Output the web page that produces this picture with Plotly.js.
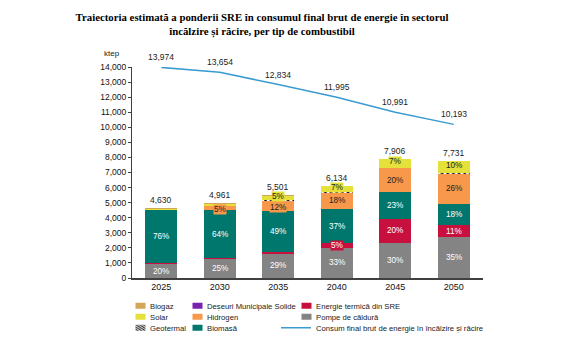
<!DOCTYPE html>
<html><head><meta charset="utf-8">
<script src="https://cdn.plot.ly/plotly-3.0.1.min.js"></script>
<style>html,body{margin:0;padding:0;background:#fff}</style>
</head><body>
<div id="chart" style="width:585px;height:340px"></div>
<script>
const years = ['2025', '2030', '2035', '2040', '2045', '2050'];
const pompe = [926, 1240, 1595, 2010, 2330, 2690];
const energieTermica = [60, 88, 140, 300, 1580, 845];
const biomasa = [3519, 3175, 2695, 2260, 1800, 1385];
const deseuri = [35, 30, 36, 0, 0, 0];
const hidrogen = [0, 248, 660, 1095, 1580, 2000];
const geotermal = [0, 0, 60, 40, 30, 30];
const solar = [65, 140, 275, 429, 556, 781];
const biogaz = [25, 40, 40, 0, 30, 0];
const totals = [4630, 4961, 5501, 6134, 7906, 7731];
const consumFinal = [13974, 13654, 12834, 11995, 10991, 10193];
const pctPompe = ['20%', '25%', '29%', '33%', '30%', '35%'];
const pctEnergie = ['', '', '', '5%', '20%', '11%'];
const pctBiomasa = ['76%', '64%', '49%', '37%', '23%', '18%'];
const pctHidrogen = ['', '5%', '12%', '18%', '20%', '26%'];
const pctSolar = ['', '', '5%', '7%', '7%', '10%'];

const FONT = 'Liberation Sans, Arial, sans-serif';
const C = {
  biogaz: '#d4a65a', deseuri: '#7a22b0', energie: '#c8103e', solar: '#e4e13a',
  hidrogen: '#f7984a', pompe: '#848484', biomasa: '#00776d', line: '#3a9bd0'
};

function bar(name, y, color, legend, extra) {
  return Object.assign({
    type: 'bar', name: name, x: years, y: y, legend: legend,
    marker: {color: color, line: {width: 0}}, hoverinfo: 'name+y'
  }, extra || {});
}

const traces = [
  bar('Pompe de căldură', pompe, C.pompe, 'legend8'),
  bar('Energie termică din SRE', energieTermica, C.energie, 'legend7'),
  bar('Biomasă', biomasa, C.biomasa, 'legend6'),
  bar('Deșeuri Municipale Solide', deseuri, C.deseuri, 'legend4'),
  bar('Hidrogen', hidrogen, C.hidrogen, 'legend5'),
  bar('Geotermal', geotermal, '#ffffff', 'legend3', {
    marker: {color: '#ffffff', line: {width: 0},
      pattern: {shape: '\\', fgcolor: '#000000', bgcolor: '#ffffff', size: 4, solidity: 0.45}}
  }),
  bar('Solar', solar, C.solar, 'legend2'),
  bar('Biogaz', biogaz, C.biogaz, 'legend'),
  {
    type: 'scatter', mode: 'lines', name: 'Consum final brut de energie în încălzire și răcire',
    x: years, y: consumFinal, line: {color: C.line, width: 1.5}, legend: 'legend9'
  }
];

const W = 585, H = 340;
const L = 132, R = 483, T = 67, B = 278;
const YMAX = 14000;
const pxPerUnit = (B - T) / YMAX;

const annotations = [];
const stackOrder = [pompe, energieTermica, biomasa, deseuri, hidrogen, geotermal, solar, biogaz];
const labelSets = [
  {idx: 0, pct: pctPompe, color: '#ffffff', bg: C.pompe, nudge: 0},
  {idx: 1, pct: pctEnergie, color: '#ffffff', bg: C.energie, nudge: 0},
  {idx: 2, pct: pctBiomasa, color: '#ffffff', bg: C.biomasa, nudge: 0},
  {idx: 4, pct: pctHidrogen, color: '#222222', bg: C.hidrogen, nudge: -1.5},
  {idx: 6, pct: pctSolar, color: '#222222', bg: C.solar, nudge: 1.5}
];
labelSets.forEach(function (s) {
  for (let i = 0; i < years.length; i++) {
    if (!s.pct[i]) continue;
    let base = 0;
    for (let k = 0; k < s.idx; k++) base += stackOrder[k][i];
    const h = stackOrder[s.idx][i];
    const px = h * pxPerUnit;
    const a = {
      x: i, y: base + h / 2, xref: 'x', yref: 'y', text: s.pct[i], showarrow: false,
      font: {family: FONT, size: 8.2, color: s.color}, borderpad: 0
    };
    if (px < 10) a.bgcolor = s.bg;
    if (px < 12) a.yshift = s.nudge;
    annotations.push(a);
  }
});
function fmt(v) { return String(v).replace(/\B(?=(\d{3})+(?!\d))/g, ','); }
for (let i = 0; i < years.length; i++) {
  annotations.push({
    x: i, y: totals[i], xref: 'x', yref: 'y', text: fmt(totals[i]),
    showarrow: false, yanchor: 'bottom', yshift: 1,
    font: {family: FONT, size: 8.5, color: '#222222'}
  });
  annotations.push({
    x: i, y: consumFinal[i], xref: 'x', yref: 'y', text: fmt(consumFinal[i]),
    showarrow: false, yanchor: 'bottom', yshift: 3,
    font: {family: FONT, size: 8.5, color: '#222222'}
  });
}
annotations.push({
  x: (102 - L) / (R - L), y: (B - 54) / (B - T), xref: 'paper', yref: 'paper',
  xanchor: 'left', yanchor: 'middle',
  text: 'ktep', showarrow: false, font: {family: FONT, size: 8, color: '#222222'}
});

function leg(px, py) {
  return {
    x: px / W, y: 1 - py / H, xref: 'container', yref: 'container',
    xanchor: 'left', yanchor: 'middle', orientation: 'v', bgcolor: 'rgba(0,0,0,0)',
    borderwidth: 0, font: {family: FONT, size: 7.7, color: '#222222'}, itemwidth: 30
  };
}
const c1 = 110, c2 = 167, c3 = 276;
const r1 = 305.7, r2 = 316.7, r3 = 327.7;

const layout = {
  width: W, height: H,
  margin: {l: L, r: W - R, t: T, b: H - B, pad: 0, autoexpand: false},
  paper_bgcolor: '#ffffff', plot_bgcolor: '#ffffff',
  barmode: 'stack', bargap: 0.45,
  title: {
    text: 'Traiectoria estimată a ponderii SRE în consumul final brut de energie în sectorul<br>încălzire și răcire, per tip de combustibil',
    font: {family: 'Liberation Serif, Times New Roman, serif', size: 10.8, color: '#000000', weight: 'bold'},
    x: 262 / W, xanchor: 'center', xref: 'container', y: 1 - 21 / H, yanchor: 'top', yref: 'container'
  },
  xaxis: {
    type: 'category', range: [-0.5, 5.5], showline: true, linecolor: '#404040', linewidth: 1.5,
    ticks: '', showgrid: false, zeroline: false,
    tickfont: {family: FONT, size: 9, color: '#111111'}
  },
  yaxis: {
    range: [0, YMAX], dtick: 1000, tickformat: ',d', showline: true, linecolor: '#404040', linewidth: 1,
    ticks: 'outside', ticklen: 3, tickcolor: '#404040', showgrid: false, zeroline: false,
    tickfont: {family: FONT, size: 8.5, color: '#111111'}
  },
  showlegend: true,
  legend: leg(c1, r1), legend2: leg(c1, r2), legend3: leg(c1, r3),
  legend4: leg(c2, r1), legend5: leg(c2, r2), legend6: leg(c2, r3),
  legend7: leg(c3, r1), legend8: leg(c3, r2), legend9: leg(c3, r3),
  annotations: annotations
};

function compactLegend(gd) {
  // smaller legend swatches (10x6 boxes, 10px line) just left of the text, as in the reference
  gd.querySelectorAll('g.traces').forEach(function (t) {
    try {
      const lp = t.querySelector('g.legendpoints') || t.querySelector('g');
      const txt = t.querySelector('text');
      if (!lp || !txt) return;
      lp.removeAttribute('transform');
      const bb = lp.getBBox();
      if (!bb.width) return;
      const tb = txt.getBBox();
      const isLine = !!t.querySelector('.legendlines path');
      const tw = 10, th = isLine ? bb.height : 6;
      const sx = tw / bb.width, sy = th / bb.height;
      const cx = bb.x + bb.width / 2, cy = bb.y + bb.height / 2;
      const targetCx = tb.x - 9.5;
      const tx = targetCx - cx * sx, ty = cy - cy * sy;
      lp.setAttribute('transform', 'translate(' + tx + ',' + ty + ') scale(' + sx + ',' + sy + ')');
    } catch (e) { /* keep default swatch */ }
  });
}

Plotly.newPlot('chart', traces, layout, {displayModeBar: false, staticPlot: true}).then(function (gd) {
  compactLegend(gd);
});
</script>
</body></html>
